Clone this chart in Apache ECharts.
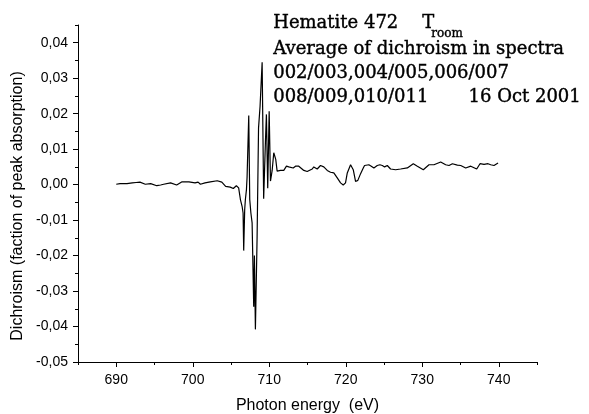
<!DOCTYPE html>
<html>
<head>
<meta charset="utf-8">
<title>Hematite 472 dichroism</title>
<script src="https://cdn.jsdelivr.net/npm/echarts@6/dist/echarts.min.js"></script>
<style>
html, body { margin: 0; padding: 0; background: #fff; }
#chart { width: 589px; height: 414px; }
</style>
</head>
<body>
<div id="chart"></div>
<script>
// photon energy (eV)
var energy = [
  690.0, 690.5, 691.4, 692.1, 692.6, 693.1, 693.8, 694.5, 695.3, 695.8,
  696.2, 697.1, 697.9, 698.6, 699.5, 700.3, 700.7, 701.0, 701.6, 702.3,
  703.2, 703.8, 704.3, 704.9, 705.3, 705.7, 706.0,
  706.23, 706.45, 706.58, 706.66, 706.79, 706.88, 707.02, 707.1, 707.32, 707.45,
  707.6, 707.76, 707.97, 708.06, 708.19, 708.41, 708.6, 708.8, 709.07, 709.27,
  709.5, 709.63, 709.8, 709.99, 710.16, 710.38, 710.59, 710.85, 711.03, 711.24,
  711.47, 711.9, 712.25, 712.55, 712.77, 713.13, 713.43, 713.86, 714.52, 714.96,
  715.62, 715.82, 716.27, 716.7, 717.13, 717.58, 718.01, 718.44, 718.89, 719.32,
  719.67, 719.97, 720.2, 720.63, 720.98, 721.28, 721.58, 721.94, 722.29, 722.46,
  722.72, 723.02, 723.34, 723.68, 724.12, 724.46, 724.78, 725.08, 725.43, 725.86,
  726.52, 727.17, 728.05, 728.83, 729.36, 730.14, 730.88, 731.53, 732.41, 733.06,
  733.5, 733.94, 734.59, 735.03, 735.68, 736.34, 737.12, 737.55, 738.08, 738.6,
  738.95, 739.38, 739.91
];
// averaged dichroism (fraction of peak absorption)
var dichroism = [
  0.0001, 0.0003, 0.0003, 0.0005, 0.0006, 0.0007, 0.0001, 0.0003, -0.0003, -0.0001,
  0.0001, 0.0005, -0.0001, 0.0008, 0.0008, 0.0005, 0.0007, 0.0001, 0.0005, 0.0008,
  0.0011, 0.0007, -0.0005, -0.0007, -0.0011, -0.0003, -0.0009,
  -0.0042, -0.0061, -0.0080, -0.0186, -0.0070, -0.0042, -0.0014, 0.0020, 0.0195, -0.0042,
  -0.0080, -0.0108, -0.0344, -0.0200, -0.0408, -0.0150, 0.0160, 0.0221, 0.0345, -0.0040,
  0.0120, 0.0198, -0.0010, 0.0207, 0.0010, 0.0040, 0.0090, 0.0071, 0.0038, 0.0040,
  0.0040, 0.0040, 0.0052, 0.0050, 0.0054, 0.0047, 0.0052, 0.0052, 0.0040, 0.0037,
  0.0044, 0.0050, 0.0044, 0.0054, 0.0050, 0.0040, 0.0035, 0.0033, 0.0019, 0.0005,
  -0.0001, 0.0005, 0.0033, 0.0056, 0.0042, 0.0009, 0.0012, 0.0031, 0.0047, 0.0054,
  0.0050, 0.0056, 0.0052, 0.0047, 0.0054, 0.0056, 0.0054, 0.0050, 0.0054, 0.0044,
  0.0042, 0.0044, 0.0047, 0.0059, 0.0052, 0.0042, 0.0056, 0.0056, 0.0064, 0.0056,
  0.0054, 0.0059, 0.0055, 0.0054, 0.0047, 0.0052, 0.0044, 0.0059, 0.0057, 0.0059,
  0.0056, 0.0054, 0.0061
];

// tick positions
var xMajor = [690, 700, 710, 720, 730, 740];
var xMinor = [685, 695, 705, 715, 725, 735, 745];
var yMajor = [-0.05, -0.04, -0.03, -0.02, -0.01, 0, 0.01, 0.02, 0.03, 0.04];
var yMinor = [-0.045, -0.035, -0.025, -0.015, -0.005, 0.005, 0.015, 0.025, 0.035, 0.045];

var titleLines = [
  'Average of dichroism in spectra',
  '002/003,004/005,006/007',
  '008/009,010/011       16 Oct 2001'
];

var myChart = echarts.init(document.getElementById('chart'));

var points = energy.map(function (e, i) { return [e, dichroism[i]]; });

var sansFont = '"Liberation Sans", Arial, sans-serif';
var serifFont = '18px "DejaVu Serif", serif';

function commaLabel(v) {
  return v.toFixed(2).replace('.', ',');
}

// serif annotation, a thin stroke makes it look as heavy as the original
function serifText(t, x, y, font) {
  return {
    type: 'text', left: x, top: y,
    style: { text: t, font: font || serifFont, fill: '#000', stroke: '#000', lineWidth: 0.4 }
  };
}

var graphics = [
  serifText('Hematite 472', 273, 14),
  serifText('T', 422, 14),
  serifText('room', 431, 28, '12px "DejaVu Serif", serif')
];
titleLines.forEach(function (t, i) {
  graphics.push(serifText(t, 273, 40 + i * 24));
});

var option = {
  backgroundColor: '#fff',
  animation: false,
  grid: { left: 78, right: 52, top: 25, bottom: 52, outerBoundsMode: 'none' },
  graphic: graphics,
  xAxis: [{
    type: 'value',
    min: 685,
    max: 745,
    name: 'Photon energy  (eV)',
    nameLocation: 'middle',
    nameGap: 36,
    nameTextStyle: { color: '#000', fontSize: 16, fontFamily: sansFont },
    axisLine: { onZero: false, lineStyle: { color: '#000', width: 1 } },
    axisTick: { customValues: xMajor, length: 5, lineStyle: { color: '#000' } },
    axisLabel: { customValues: xMajor, margin: 11, color: '#000', fontSize: 14, fontFamily: sansFont },
    splitLine: { show: false }
  }, {
    // minor ticks
    type: 'value',
    position: 'bottom',
    min: 685,
    max: 745,
    axisLine: { show: false, onZero: false },
    axisTick: { customValues: xMinor, length: 3, lineStyle: { color: '#000' } },
    axisLabel: { show: false },
    splitLine: { show: false }
  }],
  yAxis: [{
    type: 'value',
    min: -0.05,
    max: 0.045,
    name: 'Dichroism (faction of peak absorption)',
    nameLocation: 'middle',
    nameGap: 47,
    nameTextStyle: { color: '#000', fontSize: 16, fontFamily: sansFont, padding: [0, 25, 0, 0] },
    axisLine: { show: true, onZero: false, lineStyle: { color: '#000', width: 1 } },
    axisTick: { show: true, customValues: yMajor, length: 5, lineStyle: { color: '#000' } },
    axisLabel: {
      customValues: yMajor, margin: 10, color: '#000', fontSize: 14, fontFamily: sansFont,
      formatter: commaLabel
    },
    splitLine: { show: false }
  }, {
    // minor ticks
    type: 'value',
    position: 'left',
    min: -0.05,
    max: 0.045,
    axisLine: { show: false, onZero: false },
    axisTick: { show: true, customValues: yMinor, length: 3, lineStyle: { color: '#000' } },
    axisLabel: { show: false },
    splitLine: { show: false }
  }],
  series: [{
    type: 'line',
    data: points,
    showSymbol: false,
    symbol: 'none',
    lineStyle: { color: '#000', width: 1.2 },
    silent: true
  }]
};

myChart.setOption(option);

window.addEventListener('resize', function () {
  myChart.resize();
});
</script>
</body>
</html>
